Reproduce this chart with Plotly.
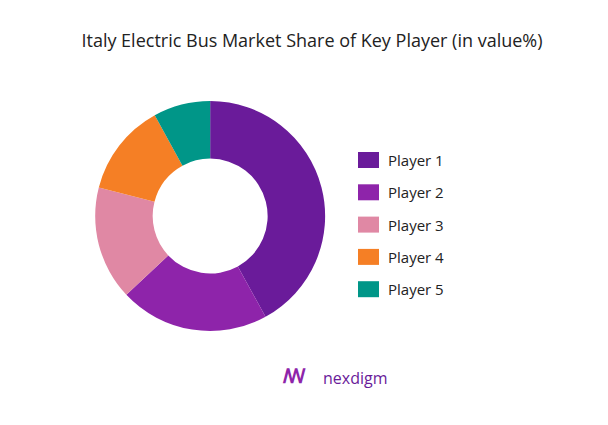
import plotly.graph_objects as go

players = ["Player 1", "Player 2", "Player 3", "Player 4", "Player 5"]
shares = [42, 21, 16, 13, 8]
colors = ["#6a1b9a", "#8e24aa", "#e088a4", "#f57f25", "#009688"]

fig = go.Figure(go.Pie(
    labels=players, values=shares, hole=0.5, sort=False, direction="clockwise",
    rotation=0, marker=dict(colors=colors), textinfo="none", hoverinfo="label+percent",
    domain=dict(x=[0.143, 0.522], y=[0.24, 0.781]), showlegend=False,
))
shapes, anns = [], []
W, H = 608, 425
for i, (p, c) in enumerate(zip(players, colors)):
    yc = 152 + i * 32.3
    shapes.append(dict(type="rect", xref="paper", yref="paper",
                       x0=350 / W, x1=371 / W, y0=1 - (yc + 8) / H, y1=1 - (yc - 8) / H,
                       fillcolor=c, line=dict(width=0)))
    anns.append(dict(text=p, x=378 / W, y=1 - yc / H, xref="paper", yref="paper",
                     xanchor="left", yanchor="middle", showarrow=False,
                     font=dict(size=15, color="#222")))
anns += [
    dict(text="<b>ꟿ</b>", x=0.47, y=0.1, xref="paper", yref="paper",
         showarrow=False, font=dict(size=20, color="#8e24aa")),
    dict(text="nexdigm", x=0.572, y=0.1, xref="paper", yref="paper",
         showarrow=False, font=dict(size=16, color="#6a1b9a")),
]
fig.update_layout(
    width=W, height=H, margin=dict(l=0, r=0, t=0, b=0),
    paper_bgcolor="white", plot_bgcolor="white",
    font=dict(family="Open Sans", color="#222"),
    title=dict(text="Italy Electric Bus Market Share of Key Player (in value%)",
               x=0.5, xanchor="center", y=0.924, yanchor="middle",
               font=dict(size=18, color="#222")),
    shapes=shapes, annotations=anns,
)
fig.write_html("out.html")
